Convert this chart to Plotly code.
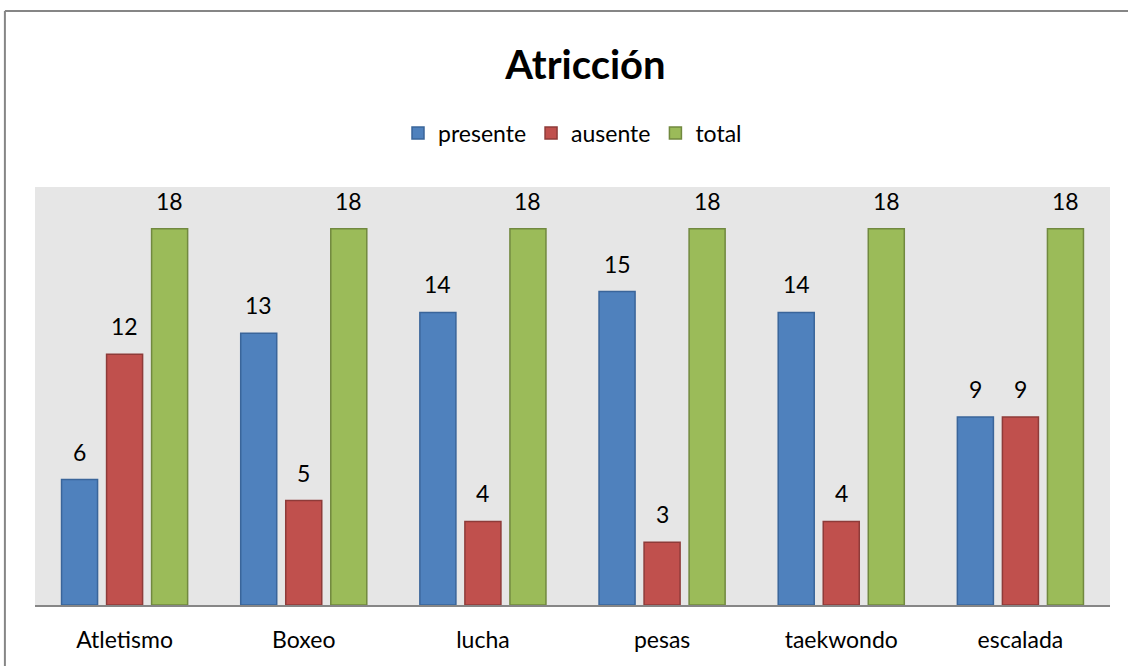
import plotly.graph_objects as go

deportes = ["Atletismo", "Boxeo", "lucha", "pesas", "taekwondo", "escalada"]
presente = [6, 13, 14, 15, 14, 9]
ausente = [12, 5, 4, 3, 4, 9]
total = [18, 18, 18, 18, 18, 18]

series = [
    ("presente", presente, "#4F81BD", "#3A659A"),
    ("ausente", ausente, "#C0504D", "#8E3B39"),
    ("total", total, "#9BBB59", "#71893F"),
]

font = "Lato, 'Open Sans', sans-serif"
fig = go.Figure()
for name, vals, col, edge in series:
    fig.add_bar(x=deportes, y=vals, name=name,
                marker=dict(color=col, line=dict(color=edge, width=1.5)))

# data labels above each bar, shifted to its slot in the group
slot = 45
for k, (name, vals, col, edge) in enumerate(series):
    for d, v in zip(deportes, vals):
        fig.add_annotation(x=d, y=v, text=str(v), showarrow=False,
                           xshift=(k - 1) * slot, yshift=12, yanchor="bottom",
                           font=dict(size=23, color="black", family=font))

# outer chart border: only left and top edges are in view
border = dict(color="#868686", width=2)
fig.add_shape(type="line", xref="paper", yref="paper",
              x0=-0.028, x1=-0.028, y0=-0.3, y1=1.421, line=border)
fig.add_shape(type="line", xref="paper", yref="paper",
              x0=-0.028, x1=1.1, y0=1.421, y1=1.421, line=border)

fig.update_layout(
    width=1128, height=666,
    margin=dict(l=35, r=18, t=187, b=61),
    paper_bgcolor="white", plot_bgcolor="#E6E6E6",
    font=dict(family=font, size=23, color="black"),
    title=dict(text="<b>Atricción</b>", x=0.519, xanchor="center",
               y=0.902, yanchor="middle", font=dict(size=40)),
    barmode="group", bargap=0.246, bargroupgap=0.2,
    legend=dict(orientation="h", x=0.5, xanchor="center", y=1.129,
                yanchor="middle", font=dict(size=23), itemwidth=30,
                bgcolor="rgba(0,0,0,0)"),
    xaxis=dict(showline=True, linecolor="#868686", linewidth=1.5,
               ticks="outside", ticklen=14, tickcolor="rgba(0,0,0,0)",
               showgrid=False),
    yaxis=dict(range=[0, 20], visible=False, showgrid=False, zeroline=False),
)

# drop the default page margin and scrollbars so the figure fills the window
fig.write_html("out.html", config={"displayModeBar": False},
               post_script="document.body.style.margin='0';"
                           "document.body.style.overflow='hidden';")
